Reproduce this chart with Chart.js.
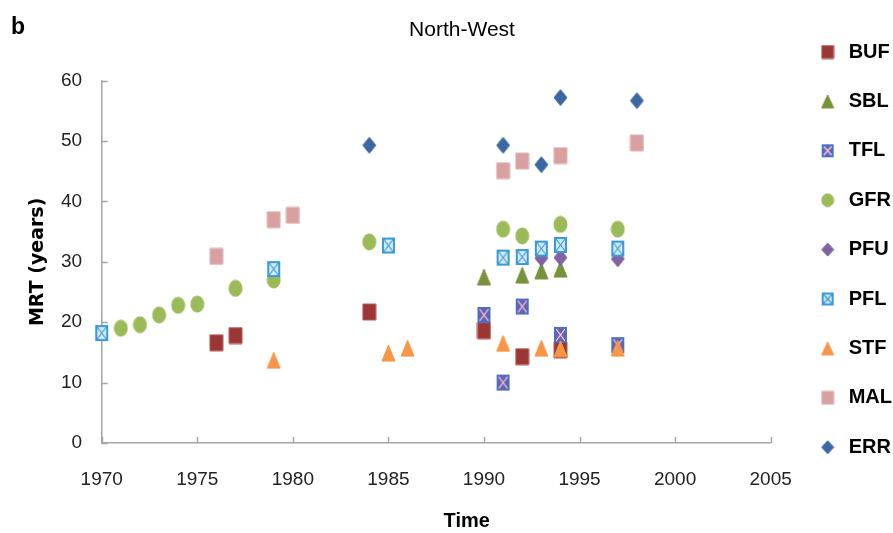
<!DOCTYPE html>
<html>
<head>
<meta charset="utf-8">
<script src="https://cdn.jsdelivr.net/npm/chart.js@4.4.1/dist/chart.umd.min.js"></script>
<style>
  html, body { margin: 0; padding: 0; background: #fff; }
  #wrap { width: 893px; height: 533px; }
</style>
</head>
<body>
<div id="wrap"><canvas id="mrtChart"></canvas></div>
<script>
// values (year, MRT in years)
const SERIES_NAMES = ['BUF', 'SBL', 'TFL', 'GFR', 'PFU', 'PFL', 'STF', 'MAL', 'ERR'];

const BUF_YEARS = [1976, 1977, 1984, 1990, 1992, 1994];
const BUF_MRT   = [16.6, 17.8, 21.7, 18.6, 14.3, 15.4];

const SBL_YEARS = [1990, 1992, 1993, 1994];
const SBL_MRT   = [27.5, 27.8, 28.5, 28.8];

const TFL_YEARS = [1990, 1991, 1992, 1994, 1997];
const TFL_MRT   = [21.2, 10.0, 22.6, 17.9, 16.2];

const GFR_YEARS = [1971, 1972, 1973, 1974, 1975, 1977, 1979, 1984, 1991, 1992, 1994, 1997];
const GFR_MRT   = [19.0, 19.6, 21.2, 22.8, 23.0, 25.6, 27.0, 33.3, 35.4, 34.3, 36.2, 35.4];

const PFU_YEARS = [1993, 1994, 1997];
const PFU_MRT   = [30.6, 30.7, 30.5];

const PFL_YEARS = [1970, 1979, 1985, 1991, 1992, 1993, 1994, 1997];
const PFL_MRT   = [18.2, 28.8, 32.7, 30.7, 30.8, 32.2, 32.8, 32.2];

const STF_YEARS = [1979, 1985, 1986, 1991, 1993, 1994, 1997];
const STF_MRT   = [13.7, 14.9, 15.7, 16.5, 15.7, 15.6, 15.7];

const MAL_YEARS = [1976, 1979, 1980, 1991, 1992, 1994, 1998];
const MAL_MRT   = [30.9, 37.0, 37.7, 45.1, 46.7, 47.6, 49.7];

const ERR_YEARS = [1984, 1991, 1993, 1994, 1998];
const ERR_MRT   = [49.3, 49.3, 46.1, 57.2, 56.7];

const X_TICKS = [1970, 1975, 1980, 1985, 1990, 1995, 2000, 2005];
const Y_TICKS = [0, 10, 20, 30, 40, 50, 60];

const ALL_YEARS = [BUF_YEARS, SBL_YEARS, TFL_YEARS, GFR_YEARS, PFU_YEARS, PFL_YEARS, STF_YEARS, MAL_YEARS, ERR_YEARS];
const ALL_MRT = [BUF_MRT, SBL_MRT, TFL_MRT, GFR_MRT, PFU_MRT, PFL_MRT, STF_MRT, MAL_MRT, ERR_MRT];

// marker look for each series
const STYLES = [
    { shape: 'square',   fill: '#9a3633', stroke: '#b65a57' },
    { shape: 'triangle', fill: '#76923b', stroke: '#76923b' },
    { shape: 'tfl',      fill: '#785aa6', stroke: '#4a70c2' },
    { shape: 'circle',   fill: '#9bbb59', stroke: '#9bbb59' },
    { shape: 'diamond',  fill: '#7f63a2', stroke: '#7f63a2' },
    { shape: 'pfl',      fill: '#d3ebf8', stroke: '#3a9ad9' },
    { shape: 'triangle', fill: '#f79646', stroke: '#f79646' },
    { shape: 'square',   fill: '#d9a0a0', stroke: '#e2b4b4' },
    { shape: 'diamond',  fill: '#3b68a3', stroke: '#3b68a3' }
];

function makeMarker(st, w, h) {
    const c = document.createElement('canvas');
    c.width = w + 2;
    c.height = h + 2;
    const g = c.getContext('2d');
    g.translate(1, 1);
    g.fillStyle = st.fill;
    g.strokeStyle = st.stroke;
    g.lineWidth = 1;
    g.beginPath();
    if (st.shape === 'triangle') {
        g.moveTo(w / 2, 0); g.lineTo(w, h); g.lineTo(0, h); g.closePath();
    } else if (st.shape === 'circle') {
        g.ellipse(w / 2, h / 2, w / 2, h / 2, 0, 0, Math.PI * 2);
    } else if (st.shape === 'diamond') {
        g.moveTo(w / 2, 0); g.lineTo(w, h / 2); g.lineTo(w / 2, h); g.lineTo(0, h / 2); g.closePath();
    } else {
        g.rect(0, 0, w, h);
    }
    g.fill();
    if (st.shape === 'tfl' || st.shape === 'pfl') {
        // box with a cross through it
        g.strokeStyle = st.shape === 'tfl' ? '#e4dcf0' : '#3a9ad9';
        g.lineWidth = 1.2;
        g.beginPath();
        g.moveTo(2, 2); g.lineTo(w - 2, h - 2);
        g.moveTo(w - 2, 2); g.lineTo(2, h - 2);
        g.stroke();
        g.strokeStyle = st.stroke;
        g.lineWidth = 2;
        g.strokeRect(1, 1, w - 2, h - 2);
    } else {
        g.stroke();
    }
    return c;
}

const plotMarkers = STYLES.map(st => makeMarker(st, 13, 16));
const legendMarkers = STYLES.map(st => makeMarker(st, 12, 13));

// ticks drawn on the inside of the axes, like the original
const innerTicks = {
    id: 'innerTicks',
    beforeDatasetsDraw(chart) {
        const { ctx, scales: { x, y } } = chart;
        ctx.save();
        ctx.strokeStyle = '#a6a6a6';
        ctx.lineWidth = 1.5;
        ctx.beginPath();
        x.ticks.forEach(t => {
            const px = Math.round(x.getPixelForValue(t.value)) + 0.5;
            ctx.moveTo(px, x.top);
            ctx.lineTo(px, x.top - 6);
        });
        y.ticks.forEach(t => {
            const py = Math.round(y.getPixelForValue(t.value)) + 0.5;
            ctx.moveTo(y.right, py);
            ctx.lineTo(y.right + 6, py);
        });
        ctx.stroke();
        ctx.restore();
    }
};

// panel letter
const panelLetter = {
    id: 'panelLetter',
    afterDraw(chart) {
        const ctx = chart.ctx;
        ctx.save();
        ctx.fillStyle = '#000';
        ctx.font = 'bold 23px "Liberation Sans", Arial, sans-serif';
        ctx.textBaseline = 'alphabetic';
        ctx.fillText('b', 11, 34);
        ctx.restore();
    }
};

const datasets = SERIES_NAMES.map((name, i) => ({
    label: name,
    data: ALL_YEARS[i].map((yr, k) => ({ x: yr, y: ALL_MRT[i][k] })),
    pointStyle: plotMarkers[i],
    pointRadius: 8,
    pointHoverRadius: 8,
    showLine: false,
    clip: false,
    order: SERIES_NAMES.length - 1 - i
}));

const tickFont = { family: '"Liberation Sans", Arial, sans-serif', size: 19 };

// note: chart.js counts tick padding twice when sizing an axis,
// so the title paddings below are trimmed to make up for it
new Chart(document.getElementById('mrtChart'), {
    type: 'scatter',
    data: { datasets: datasets },
    plugins: [innerTicks, panelLetter],
    options: {
        responsive: true,
        maintainAspectRatio: false,
        animation: false,
        layout: { padding: { left: 22, top: 12.6, right: -9, bottom: 0 } },
        plugins: {
            tooltip: { enabled: false },
            title: {
                display: true,
                text: 'North-West',
                color: '#000',
                font: { family: '"Liberation Sans", Arial, sans-serif', size: 21, weight: 'normal' },
                padding: { top: 4.8, bottom: 38.1 }
            },
            legend: {
                position: 'right',
                align: 'start',
                labels: {
                    usePointStyle: true,
                    pointStyleWidth: 22,
                    padding: 29.4,
                    color: '#000',
                    font: { family: '"Liberation Sans", Arial, sans-serif', size: 20, weight: 'bold' },
                    generateLabels: chart => chart.data.datasets.map((ds, i) => ({
                        text: ds.label,
                        pointStyle: legendMarkers[i],
                        fillStyle: STYLES[i].fill,
                        strokeStyle: 'rgba(0,0,0,0)',
                        lineWidth: 0,
                        hidden: false,
                        datasetIndex: i
                    }))
                }
            }
        },
        scales: {
            x: {
                type: 'linear',
                min: X_TICKS[0],
                max: X_TICKS[X_TICKS.length - 1],
                afterBuildTicks: s => { s.ticks = X_TICKS.map(v => ({ value: v })); },
                grid: { display: false, drawTicks: false },
                border: { display: true, color: '#a6a6a6', width: 1.5 },
                ticks: { font: tickFont, color: '#222', padding: 25, callback: v => String(v) },
                title: {
                    display: true,
                    // leading no-break spaces push the word right, as in the original
                    text: '\u00a0\u00a0\u00a0\u00a0\u00a0\u00a0\u00a0\u00a0\u00a0\u00a0\u00a0Time',
                    color: '#000',
                    font: { family: '"Liberation Sans", Arial, sans-serif', size: 20, weight: 'bold' },
                    padding: { top: -6.8, bottom: 0 }
                }
            },
            y: {
                min: Y_TICKS[0],
                max: Y_TICKS[Y_TICKS.length - 1],
                afterBuildTicks: s => { s.ticks = Y_TICKS.map(v => ({ value: v })); },
                grid: { display: false, drawTicks: false },
                border: { display: true, color: '#a6a6a6', width: 1.5 },
                ticks: { font: tickFont, color: '#222', padding: 19.7 },
                title: {
                    display: true,
                    text: 'MRT (years)',
                    color: '#000',
                    font: { family: '"DejaVu Sans", sans-serif', size: 19, weight: 'bold' },
                    padding: { top: 4.6, bottom: -8.2 }
                }
            },
            // empty spacer between the plot and the legend
            gap: {
                position: 'right',
                display: true,
                grid: { display: false },
                border: { display: false },
                ticks: { display: false },
                afterFit: s => { s.width = 16.6; }
            }
        }
    }
});
</script>
</body>
</html>
